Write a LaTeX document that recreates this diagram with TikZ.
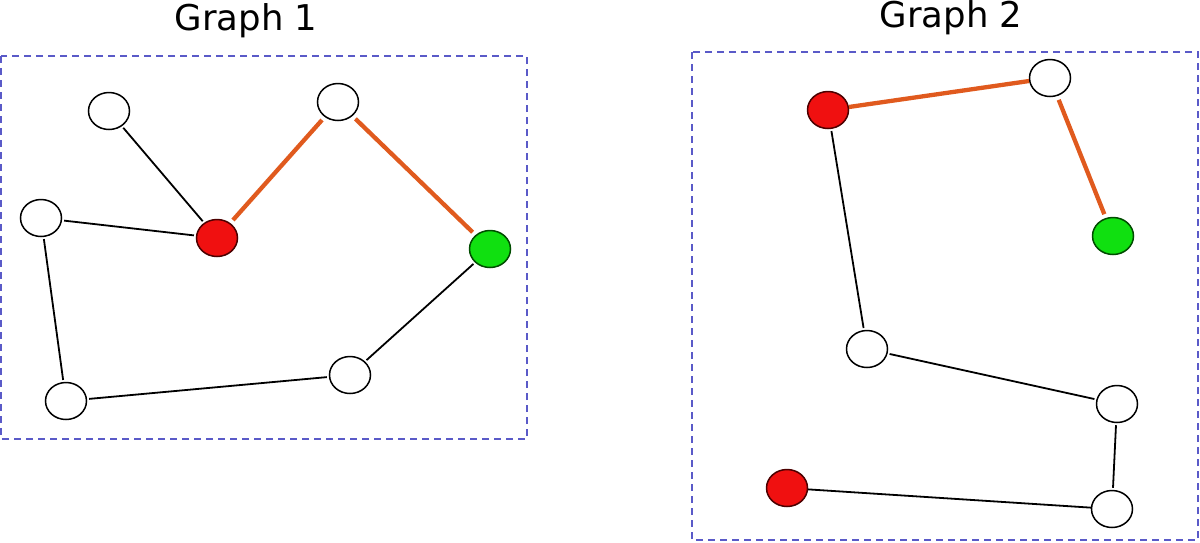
\documentclass[tikz,border=0pt]{standalone}
\usepackage{fontspec}
\setmainfont{DejaVu Sans}
\usetikzlibrary{shapes.geometric}
\definecolor{boxblue}{HTML}{5A5AC8}
\definecolor{pathorange}{HTML}{E05A1E}
\definecolor{nodered}{HTML}{F01010}
\definecolor{nodegreen}{HTML}{10E010}
\tikzset{
  vert/.style={ellipse, draw=black, line width=1.5pt, minimum width=41pt, minimum height=37pt, inner sep=0pt, fill=white},
  redv/.style={vert, fill=nodered, draw=black!70!red},
  greenv/.style={vert, fill=nodegreen, draw=black!70!green},
  edge/.style={line width=1.8pt, black, shorten <=2pt, shorten >=2pt},
  hot/.style={line width=4.3pt, pathorange, shorten <=4pt, shorten >=4pt},
  frame/.style={draw=boxblue, line width=1.8pt, dash pattern=on 7pt off 5pt},
  title/.style={font=\fontsize{35.5}{42}\selectfont, anchor=base}
}
\begin{document}
\begin{tikzpicture}[x=1pt,y=-1pt]
\useasboundingbox (0,0) rectangle (1200,542);
% Graph 1
\node[title] (t1) at (246,30) {Graph 1};
\draw[frame] (1,56) rectangle (527,439);
\node[vert] (a) at (109,111) {};
\node[vert] (b) at (338,102) {};
\node[vert] (c) at (41,218) {};
\node[redv] (r) at (217,238) {};
\node[greenv] (g) at (490,249) {};
\node[vert] (d) at (350,375) {};
\node[vert] (e) at (66,401) {};
\draw[edge] (a) -- (r);
\draw[edge] (c) -- (r);
\draw[edge] (c) -- (e);
\draw[edge] (e) -- (d);
\draw[edge] (d) -- (g);
\draw[hot] (r) -- (b);
\draw[hot] (b) -- (g);
% Graph 2
\node[title] (t2) at (951,27) {Graph 2};
\draw[frame] (692,52) rectangle (1198,540);
\node[redv] (r1) at (828,110) {};
\node[vert] (w1) at (1050,78) {};
\node[greenv] (g2) at (1113,236) {};
\node[vert] (w2) at (867,349) {};
\node[vert] (w3) at (1117,404) {};
\node[vert] (w4) at (1112,509) {};
\node[redv] (r2) at (787,488) {};
\draw[hot, shorten <=0pt, shorten >=0pt] (r1) -- (w1);
\draw[hot] (w1) -- (g2);
\draw[edge] (r1) -- (w2);
\draw[edge] (w2) -- (w3);
\draw[edge] (w3) -- (w4);
\draw[edge, shorten <=0pt, shorten >=0pt] (r2) -- (w4);
\end{tikzpicture}
\end{document}
